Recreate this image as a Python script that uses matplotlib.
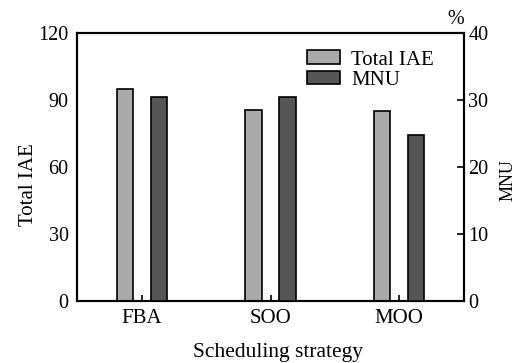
import numpy as np
import matplotlib.pyplot as plt
from matplotlib.patches import Patch

plt.rcParams['font.family'] = ['Liberation Serif', 'DejaVu Serif']
plt.rcParams['font.size'] = 14.5

strategies = ["FBA", "SOO", "MOO"]
total_iae = [95, 85.5, 85]
mnu = [30.4, 30.4, 24.8]

fig = plt.figure(figsize=(5.29, 3.63), dpi=100)
ax = fig.add_axes([0.1456, 0.1708, 0.7315, 0.7383])
ax2 = ax.twinx()

x = np.arange(len(strategies))
w = 0.125
off = 0.132
ax.bar(x - off, total_iae, w, color='#aaaaaa', edgecolor='black', linewidth=1.2, zorder=3)
ax2.bar(x + off, mnu, w, color='#555555', edgecolor='black', linewidth=1.2, zorder=3)

ax.set_xlim(-0.505, 2.505)
ax.set_ylim(0, 120)
ax.set_yticks([0, 30, 60, 90, 120])
ax2.set_ylim(0, 40)
ax2.set_yticks([0, 10, 20, 30, 40])
ax.set_xticks(x)
ax.set_xticklabels(strategies, fontsize=15)

ax.tick_params(axis='y', length=0, pad=6)
ax.tick_params(axis='x', direction='in', length=4, width=1.2, pad=6)
ax2.tick_params(axis='y', direction='in', length=5, width=1.2, pad=3)
for a in (ax, ax2):
    for s in a.spines.values():
        s.set_linewidth(1.5)

ax.set_ylabel("Total IAE", fontsize=15)
ax.yaxis.set_label_coords(-0.102, 0.433)
ax2.set_ylabel("MNU", fontsize=13)
ax2.yaxis.set_label_coords(1.093, 0.451)
ax.set_xlabel("Scheduling strategy", fontsize=15.5)
ax.xaxis.set_label_coords(0.519, -0.155)
ax2.text(0.98, 1.015, "%", transform=ax2.transAxes, ha='center', va='bottom')

handles = [Patch(facecolor='#aaaaaa', edgecolor='black', linewidth=1.2),
           Patch(facecolor='#555555', edgecolor='black', linewidth=1.2)]
ax.legend(handles, ["Total IAE", "MNU"], loc='upper left', bbox_to_anchor=(0.595, 0.935),
          frameon=False, borderpad=0, handlelength=1.55, handleheight=0.62,
          labelspacing=0.05, handletextpad=0.55, borderaxespad=0, fontsize=15)

fig.savefig("out.png", dpi=100)
